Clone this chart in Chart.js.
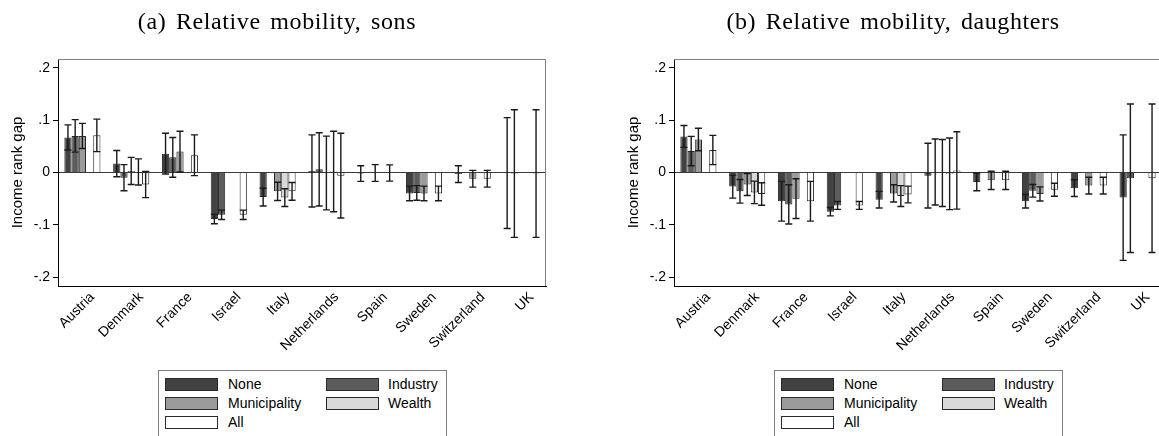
<!DOCTYPE html>
<html>
<head>
<meta charset="utf-8">
<script src="https://cdn.jsdelivr.net/npm/chart.js@4.4.0/dist/chart.umd.min.js"></script>
<style>
  html, body { margin: 0; padding: 0; background: #fff; }
  #page { position: relative; width: 1159px; height: 436px; overflow: hidden; }
  .panel { position: absolute; top: 0; width: 580px; height: 436px; }
  .panel canvas { position: absolute; left: 0; top: 0; }
  .title { position: absolute; left: 0; width: 554px; top: 9px; text-align: center; white-space: nowrap;
           font-family: "Liberation Serif", serif; font-size: 24px; line-height: 24px;
           letter-spacing: 0.6px; word-spacing: 3px; color: #000; }
  .legend { position: absolute; left: 158px; top: 370px; width: 287px; height: 80px;
            border: 1px solid #7f7f7f; background: #fff;
            font-family: "Liberation Sans", Arial, sans-serif; font-size: 14px; color: #000; }
  .sw { position: absolute; width: 51px; height: 11px; border: 1px solid #2a2a2a; }
  .lt { position: absolute; line-height: 14px; }
</style>
</head>
<body>
<div id="page">
  <div class="panel" style="left:0">
    <canvas id="sons" width="580" height="436"></canvas>
    <div class="title">(a) Relative mobility, sons</div>
    <div class="legend" id="legSons"></div>
  </div>
  <div class="panel" style="left:616px">
    <canvas id="daughters" width="580" height="436"></canvas>
    <div class="title">(b) Relative mobility, daughters</div>
    <div class="legend" id="legDaughters"></div>
  </div>
</div>
<script>
const countries = ["Austria", "Denmark", "France", "Israel", "Italy", "Netherlands", "Spain", "Sweden", "Switzerland", "UK"];
const seriesNames = ["None", "Industry", "Municipality", "Wealth", "All"];
const seriesColors = ["#414141", "#5c5c5c", "#9b9b9b", "#d9d9d9", "#ffffff"];
const yTicks = [-0.2, -0.1, 0, 0.1, 0.2];
const yTickLabels = ["-.2", "-.1", "0", ".1", ".2"];

// sons: point estimates and CI half-widths
const sonsNone = [0.067, 0.017, 0.036, -0.089, -0.047, 0.003, -0.002, -0.040, -0.003, -0.001];
const sonsNoneErr = [0.024, 0.025, 0.039, 0.009, 0.017, 0.069, 0.015, 0.014, 0.016, 0.106];
const sonsIndustry = [0.070, -0.010, 0.029, -0.081, null, 0.006, null, -0.039, null, -0.002];
const sonsIndustryErr = [0.031, 0.025, 0.038, 0.009, null, 0.070, null, 0.014, null, 0.122];
const sonsMunicipality = [0.070, 0.003, 0.040, null, -0.036, -0.001, -0.001, -0.040, -0.012, null];
const sonsMunicipalityErr = [0.024, 0.026, 0.039, null, 0.0175, 0.0705, 0.016, 0.014, 0.016, null];
const sonsWealth = [null, 0.001, null, null, -0.048, 0.002, null, null, null, null];
const sonsWealthErr = [null, 0.025, null, null, 0.017, 0.077, null, null, null, null];
const sonsAll = [0.071, -0.023, 0.033, -0.081, -0.036, -0.006, -0.001, -0.040, -0.012, -0.002];
const sonsAllErr = [0.031, 0.025, 0.039, 0.009, 0.017, 0.081, 0.0155, 0.014, 0.016, 0.122];

// daughters
const daughtersNone = [0.069, -0.027, -0.055, -0.075, -0.052, -0.006, -0.018, -0.055, -0.030, -0.048];
const daughtersNoneErr = [0.021, 0.022, 0.038, 0.008, 0.016, 0.062, 0.017, 0.013, 0.016, 0.120];
const daughtersIndustry = [0.041, -0.036, -0.061, -0.063, null, 0.001, null, -0.035, null, -0.011];
const daughtersIndustryErr = [0.028, 0.0225, 0.0375, 0.0075, null, 0.063, null, 0.012, null, 0.142];
const daughtersMunicipality = [0.063, -0.023, -0.050, null, -0.040, -0.001, -0.015, -0.041, -0.025, null];
const daughtersMunicipalityErr = [0.0215, 0.021, 0.038, null, 0.0165, 0.064, 0.0175, 0.0135, 0.016, null];
const daughtersWealth = [null, -0.038, null, null, -0.045, -0.0025, null, null, null, null];
const daughtersWealthErr = [null, 0.0215, null, null, 0.020, 0.0685, null, null, null, null];
const daughtersAll = [0.043, -0.041, -0.055, -0.063, -0.042, 0.004, -0.015, -0.033, -0.025, -0.011];
const daughtersAllErr = [0.028, 0.0215, 0.038, 0.0075, 0.016, 0.074, 0.0175, 0.0125, 0.016, 0.142];

const sansFont = "'Liberation Sans', Arial, sans-serif";

// CI whiskers drawn on top of the bars
const errorBars = {
  id: "errorBars",
  afterDatasetsDraw(chart) {
    const ctx = chart.ctx;
    const y = chart.scales.y;
    ctx.save();
    ctx.strokeStyle = "#1a1a1a";
    ctx.lineWidth = 1.4;
    chart.data.datasets.forEach((ds, d) => {
      const meta = chart.getDatasetMeta(d);
      ds.data.forEach((v, i) => {
        if (v === null) return;
        const x = meta.data[i].x;
        const y1 = y.getPixelForValue(v + ds.err[i]);
        const y2 = y.getPixelForValue(v - ds.err[i]);
        ctx.beginPath();
        ctx.moveTo(x, y1); ctx.lineTo(x, y2);
        ctx.moveTo(x - 3.5, y1); ctx.lineTo(x + 3.5, y1);
        ctx.moveTo(x - 3.5, y2); ctx.lineTo(x + 3.5, y2);
        ctx.stroke();
      });
    });
    ctx.restore();
  }
};

// grey top and right edges of the plot box
const plotFrame = {
  id: "plotFrame",
  afterDraw(chart) {
    const a = chart.chartArea;
    const ctx = chart.ctx;
    ctx.save();
    ctx.strokeStyle = "#808080";
    ctx.lineWidth = 1;
    ctx.beginPath();
    ctx.moveTo(a.left, a.top + 0.5);
    ctx.lineTo(a.right - 0.5, a.top + 0.5);
    ctx.lineTo(a.right - 0.5, a.bottom);
    ctx.stroke();
    ctx.restore();
  }
};

function makePanel(id, values, errs) {
  const datasets = seriesNames.map((name, k) => ({
    label: name,
    data: values[k],
    err: errs[k],
    backgroundColor: seriesColors[k],
    borderColor: "#2a2a2a",
    borderWidth: 1,
    categoryPercentage: 0.74,
    barPercentage: 1.0
  }));

  new Chart(document.getElementById(id), {
    type: "bar",
    data: { labels: countries, datasets: datasets },
    options: {
      responsive: false,
      animation: false,
      layout: { padding: { top: 59, right: 34, left: 0, bottom: 0 } },
      plugins: { legend: { display: false }, tooltip: { enabled: false } },
      scales: {
        x: {
          grid: { display: false, drawTicks: false },
          border: { color: "#000", width: 1 },
          ticks: { minRotation: 45, maxRotation: 45, padding: 3, labelOffset: 10, color: "#000",
                   font: { family: sansFont, size: 14 } },
          afterFit: (s) => { s.height = 150; }
        },
        y: {
          min: -0.217,
          max: 0.217,
          afterBuildTicks: (s) => { s.ticks = yTicks.map(v => ({ value: v })); },
          afterFit: (s) => { s.width = 58; },
          grid: {
            color: (c) => (c.tick && c.tick.value === 0 ? "#3a3a3a" : "rgba(0,0,0,0)"),
            tickColor: "#000",
            tickLength: 5,
            lineWidth: 1
          },
          border: { color: "#000", width: 1 },
          ticks: { padding: 3, color: "#000", font: { family: sansFont, size: 14 },
                   callback: (v, i) => yTickLabels[i] },
          title: { display: true, text: "Income rank gap", color: "#000",
                   font: { family: sansFont, size: 15 }, padding: { top: 9, bottom: 0 } }
        }
      }
    },
    plugins: [errorBars, plotFrame]
  });
}

function makeLegend(id) {
  const box = document.getElementById(id);
  const cells = [[0, 0], [1, 0], [0, 1], [1, 1], [0, 2]]; // [col, row]
  seriesNames.forEach((name, k) => {
    const [col, row] = cells[k];
    const sw = document.createElement("div");
    sw.className = "sw";
    sw.style.left = (6 + col * 161) + "px";
    sw.style.top = (7 + row * 19) + "px";
    sw.style.background = seriesColors[k];
    const t = document.createElement("div");
    t.className = "lt";
    t.style.left = (69 + col * 160) + "px";
    t.style.top = (6 + row * 19) + "px";
    t.textContent = name;
    box.appendChild(sw);
    box.appendChild(t);
  });
}

makePanel("sons",
  [sonsNone, sonsIndustry, sonsMunicipality, sonsWealth, sonsAll],
  [sonsNoneErr, sonsIndustryErr, sonsMunicipalityErr, sonsWealthErr, sonsAllErr]);
makePanel("daughters",
  [daughtersNone, daughtersIndustry, daughtersMunicipality, daughtersWealth, daughtersAll],
  [daughtersNoneErr, daughtersIndustryErr, daughtersMunicipalityErr, daughtersWealthErr, daughtersAllErr]);
makeLegend("legSons");
makeLegend("legDaughters");
</script>
</body>
</html>
